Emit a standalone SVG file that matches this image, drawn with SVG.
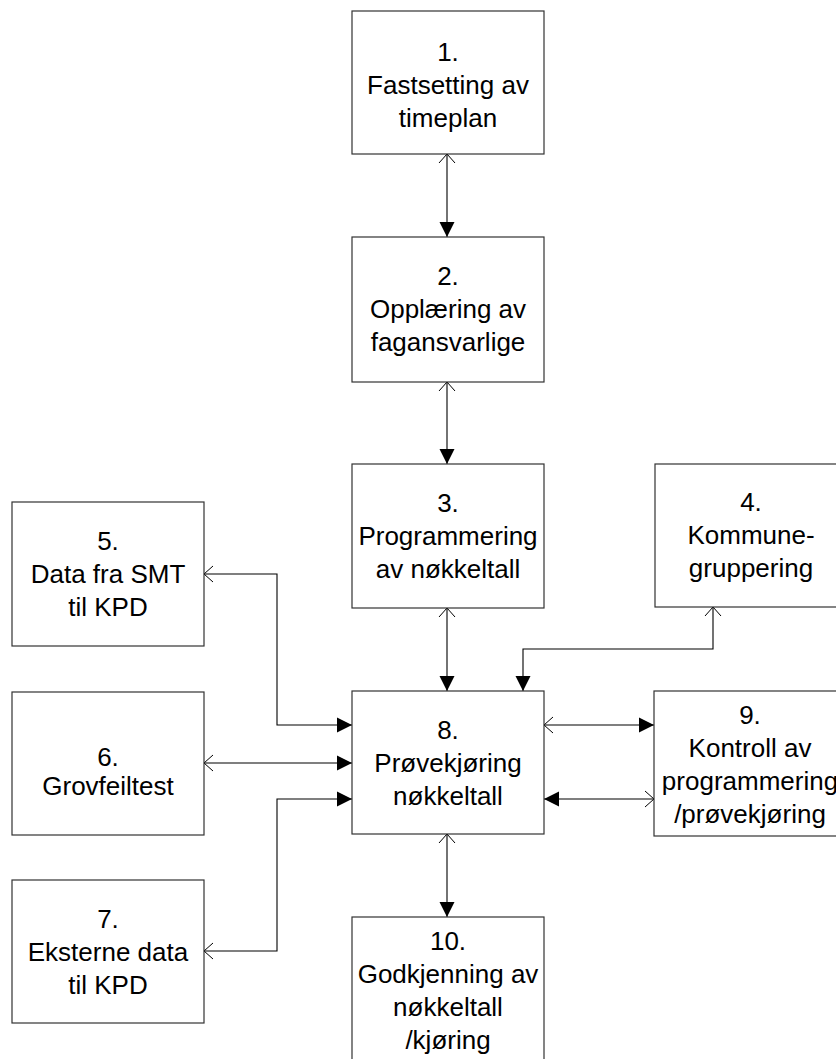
<svg xmlns="http://www.w3.org/2000/svg" width="836" height="1059" viewBox="0 0 836 1059">
  <style>
    .box { fill: #ffffff; stroke: #333333; stroke-width: 1.2; }
    .lbl { font-family: "Liberation Sans", Arial, sans-serif; font-size: 26px; fill: #000000; text-anchor: middle; }
    .con { fill: none; stroke: #000000; stroke-width: 1.1; marker-start: url(#open); marker-end: url(#solid); }
  </style>
  <defs>
    <marker id="solid" markerUnits="userSpaceOnUse" markerWidth="16" markerHeight="16" refX="15" refY="7.5" orient="auto" overflow="visible">
      <path d="M0,0 L15,7.5 L0,15 Z" fill="#000000"/>
    </marker>
    <marker id="open" markerUnits="userSpaceOnUse" markerWidth="16" markerHeight="18" refX="9" refY="8" orient="auto-start-reverse" overflow="visible">
      <path d="M0,0 L9,8 L0,16" fill="none" stroke="#000000" stroke-width="1"/>
    </marker>
  </defs>
  <rect width="836" height="1059" fill="#ffffff"/>

  <!-- connectors: open head at the source end, filled head at the target end -->
  <g id="connectors">
    <path class="con" d="M447,154 V237"/>
    <path class="con" d="M447,382 V464"/>
    <path class="con" d="M447,608 V691"/>
    <path class="con" d="M713,607 V649 H523 V691"/>
    <path class="con" d="M204,574 H277 V725 H352"/>
    <path class="con" d="M204,763 H352"/>
    <path class="con" d="M204,951 H277 V799 H352"/>
    <path class="con" d="M544,725 H654"/>
    <path class="con" d="M654,799 H544"/>
    <path class="con" d="M447,834 V917"/>
  </g>

  <g id="node1">
    <rect class="box" x="352" y="11" width="192" height="143"/>
    <text class="lbl"><tspan x="448" y="61">1.</tspan><tspan x="448" y="94">Fastsetting av</tspan><tspan x="448" y="127">timeplan</tspan></text>
  </g>
  <g id="node2">
    <rect class="box" x="352" y="237" width="192" height="145"/>
    <text class="lbl"><tspan x="448" y="285">2.</tspan><tspan x="448" y="318">Opplæring av</tspan><tspan x="448" y="351">fagansvarlige</tspan></text>
  </g>
  <g id="node3">
    <rect class="box" x="352" y="464" width="192" height="144"/>
    <text class="lbl"><tspan x="448" y="512">3.</tspan><tspan x="448" y="545">Programmering</tspan><tspan x="448" y="578">av nøkkeltall</tspan></text>
  </g>
  <g id="node4">
    <rect class="box" x="655" y="464" width="192" height="143"/>
    <text class="lbl"><tspan x="751" y="511">4.</tspan><tspan x="751" y="544">Kommune-</tspan><tspan x="751" y="577">gruppering</tspan></text>
  </g>
  <g id="node5">
    <rect class="box" x="12" y="502" width="192" height="144"/>
    <text class="lbl"><tspan x="108" y="550">5.</tspan><tspan x="108" y="583">Data fra SMT</tspan><tspan x="108" y="616">til KPD</tspan></text>
  </g>
  <g id="node6">
    <rect class="box" x="12" y="692" width="192" height="143"/>
    <text class="lbl"><tspan x="108" y="766">6.</tspan><tspan x="108" y="795">Grovfeiltest</tspan></text>
  </g>
  <g id="node7">
    <rect class="box" x="12" y="880" width="192" height="143"/>
    <text class="lbl"><tspan x="108" y="928">7.</tspan><tspan x="108" y="961">Eksterne data</tspan><tspan x="108" y="994">til KPD</tspan></text>
  </g>
  <g id="node8">
    <rect class="box" x="352" y="691" width="192" height="143"/>
    <text class="lbl"><tspan x="448" y="739">8.</tspan><tspan x="448" y="772">Prøvekjøring</tspan><tspan x="448" y="805">nøkkeltall</tspan></text>
  </g>
  <g id="node9">
    <rect class="box" x="654" y="691" width="192" height="145"/>
    <text class="lbl"><tspan x="750" y="724">9.</tspan><tspan x="750" y="757">Kontroll av</tspan><tspan x="750" y="790">programmering</tspan><tspan x="750" y="823">/prøvekjøring</tspan></text>
  </g>
  <g id="node10">
    <rect class="box" x="352" y="917" width="192" height="160"/>
    <text class="lbl"><tspan x="448" y="950">10.</tspan><tspan x="448" y="983">Godkjenning av</tspan><tspan x="448" y="1016">nøkkeltall</tspan><tspan x="448" y="1049">/kjøring</tspan></text>
  </g>
</svg>
